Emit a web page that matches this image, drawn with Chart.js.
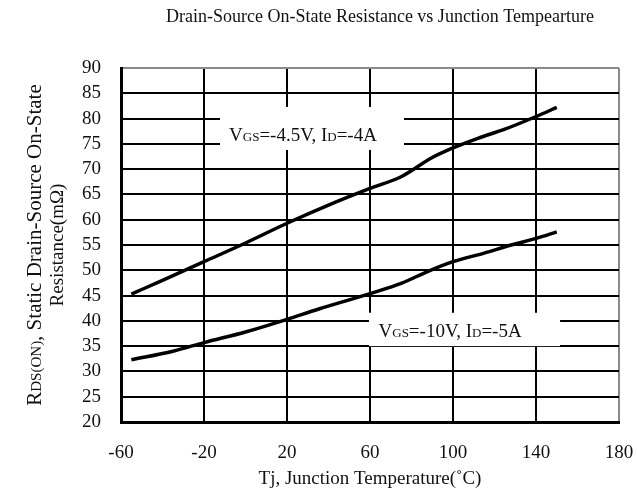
<!DOCTYPE html>
<html lang="en">
<head>
  <meta charset="UTF-8" />
  <title>Drain-Source On-State Resistance vs Junction Temperature</title>
  <script src="https://cdn.jsdelivr.net/npm/chart.js"></script>
  <style>
    body { margin: 0; background: #fff; }
    canvas { display: block; }
  </style>
</head>
<body>
  <canvas id="rdsChart" width="637" height="496"></canvas>

  <script>
    // Curve
    const tempA = [-55, -40, -20, 0, 20, 40, 60, 75, 90, 100, 112, 125, 140, 150];
    const rdsA  = [45.3, 48.0, 51.7, 55.4, 59.3, 62.9, 66.2, 68.5, 72.3, 74.2, 76.1, 77.9, 80.4, 82.2];

    const tempB = [-55, -35, -20, 0, 20, 35, 60, 75, 88, 100, 115, 128, 140, 150];
    const rdsB  = [32.3, 34.0, 35.7, 37.8, 40.3, 42.3, 45.4, 47.4, 49.8, 51.7, 53.4, 55.0, 56.3, 57.6];

    const xTicks = [-60, -20, 20, 60, 100, 140, 180];
    const yTicks = [20, 25, 30, 35, 40, 45, 50, 55, 60, 65, 70, 75, 80, 85, 90];

    const SERIF = "'Liberation Serif', 'DejaVu Serif', serif";

    // draws a row of text pieces with their own sizes on one baseline
    function drawRich(ctx, parts, x, y) {
      let w = 0;
      parts.forEach(p => { ctx.font = p[1] + 'px ' + SERIF; w += ctx.measureText(p[0]).width; });
      let cx = x - w / 2;
      parts.forEach(p => {
        ctx.font = p[1] + 'px ' + SERIF;
        ctx.fillText(p[0], cx, y);
        cx += ctx.measureText(p[0]).width;
      });
    }

    // label boxes (corners) and text anchor (centre, baseline), in data units
    const labels = [
      { box: [-12.3, 82.3, 76.4, 73.8], at: [27.7, 75.6],
        parts: [['V', 19], ['GS', 13], ['=-4.5V, I', 19], ['D', 13], ['=-4A', 19]] },
      { box: [59.5, 41.6, 151.6, 35.0], at: [98.6, 36.8],
        parts: [['V', 19], ['GS', 13], ['=-10V, I', 19], ['D', 13], ['=-5A', 19]] }
    ];

    const textPlugin = {
      id: 'textPlugin',
      afterDraw(chart) {
        const ctx = chart.ctx;
        const xs = chart.scales.x, ys = chart.scales.y;
        ctx.save();
        ctx.fillStyle = '#111';
        ctx.textBaseline = 'alphabetic';

        // chart title
        ctx.font = '18px ' + SERIF;
        ctx.textAlign = 'center';
        ctx.fillText('Drain-Source On-State Resistance vs Junction Tempearture', 380, 22);
        ctx.textAlign = 'left';

        // curve labels on white boxes
        labels.forEach(l => {
          const x1 = xs.getPixelForValue(l.box[0]), y1 = ys.getPixelForValue(l.box[1]);
          const x2 = xs.getPixelForValue(l.box[2]), y2 = ys.getPixelForValue(l.box[3]);
          ctx.fillStyle = '#fff';
          ctx.fillRect(x1, y1, x2 - x1, y2 - y1);
          ctx.fillStyle = '#111';
          drawRich(ctx, l.parts, xs.getPixelForValue(l.at[0]), ys.getPixelForValue(l.at[1]));
        });

        // y axis title, two lines, rotated
        const cy = (chart.chartArea.top + chart.chartArea.bottom) / 2;
        ctx.translate(0, cy);
        ctx.rotate(-Math.PI / 2);
        drawRich(ctx, [['R', 21], ['DS(ON)', 15], [', Static Drain-Source On-State', 21]], 0, 41);
        drawRich(ctx, [['Resistance(m\u03A9)', 19]], 0, 63);
        ctx.restore();
      }
    };

    const gridColor = (ctx, last) => ctx.tick && ctx.tick.value === last ? '#8a8a8a' : '#000';

    new Chart(document.getElementById('rdsChart'), {
      type: 'line',
      data: {
        datasets: [
          { label: 'VGS=-4.5V, ID=-4A', data: tempA.map((t, i) => ({ x: t, y: rdsA[i] })) },
          { label: 'VGS=-10V, ID=-5A', data: tempB.map((t, i) => ({ x: t, y: rdsB[i] })) }
        ]
      },
      options: {
        responsive: false,
        animation: false,
        layout: { padding: { top: 68, right: 18, left: 0, bottom: 0 } },
        elements: {
          line: { borderColor: '#000', borderWidth: 3.5, tension: 0.3, cubicInterpolationMode: 'monotone' },
          point: { radius: 0 }
        },
        plugins: {
          legend: { display: false },
          tooltip: { enabled: false }
        },
        scales: {
          x: {
            type: 'linear',
            min: -60,
            max: 180,
            afterBuildTicks: s => { s.ticks = xTicks.map(v => ({ value: v })); },
            afterFit: s => { s.height = 74; s.paddingLeft = 0; s.paddingRight = 0; },
            grid: { color: c => gridColor(c, 180), lineWidth: 2, drawTicks: false },
            border: { color: '#000', width: 3 },
            ticks: { color: '#111', padding: 20, maxRotation: 0, autoSkip: false, font: { family: SERIF, size: 19 } },
            title: {
              display: true,
              text: 'Tj, Junction Temperature(\u02DAC)',
              color: '#111',
              padding: { top: 0, bottom: 6 },
              font: { family: SERIF, size: 19 }
            }
          },
          y: {
            min: 20,
            max: 90,
            afterBuildTicks: s => { s.ticks = yTicks.map(v => ({ value: v })); },
            afterFit: s => { s.width = 121; },
            grid: { color: c => gridColor(c, 90), lineWidth: 2, drawTicks: false },
            border: { color: '#000', width: 3 },
            ticks: { color: '#111', padding: 20, autoSkip: false, font: { family: SERIF, size: 19 } }
          }
        }
      },
      plugins: [textPlugin]
    });
  </script>
</body>
</html>
